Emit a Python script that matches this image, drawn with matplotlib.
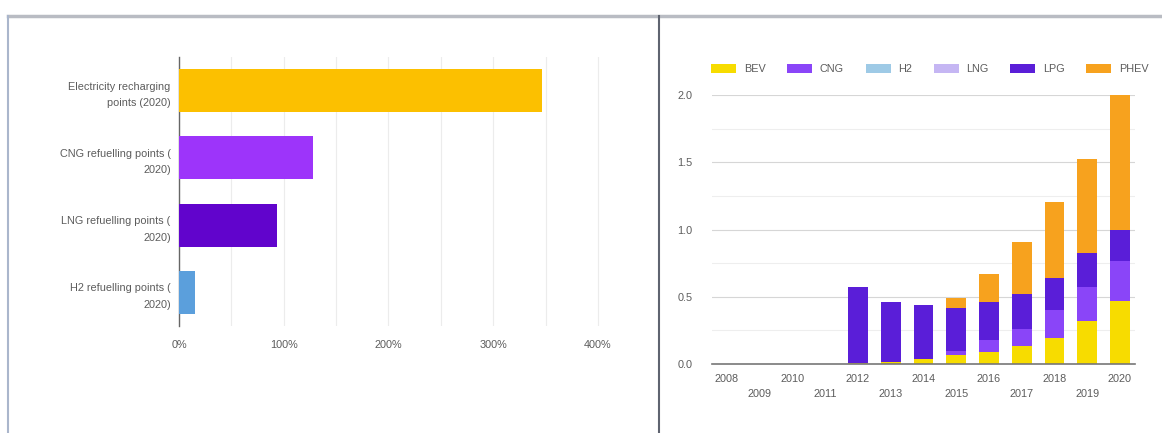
import numpy as np
import matplotlib.pyplot as plt
from matplotlib.lines import Line2D
from matplotlib.ticker import MultipleLocator, FuncFormatter

plt.rcParams['font.family'] = ['Liberation Sans', 'DejaVu Sans']

# left chart: share vs target (%)
points_labels = ['Electricity recharging\npoints (2020)', 'CNG refuelling points (\n2020)',
                 'LNG refuelling points (\n2020)', 'H2 refuelling points (\n2020)']
points_values = [347, 128, 94, 15]
points_colors = ['#fcc000', '#9d34fa', '#6104cc', '#5b9fdc']

# right chart: stacked fleet (millions)
years = [str(y) for y in range(2008, 2021)]
bev = [0, 0, 0, 0, 0.01, 0.015, 0.035, 0.065, 0.09, 0.133, 0.195, 0.321, 0.467]
cng = [0, 0, 0, 0, 0.0, 0.0, 0.0, 0.03, 0.085, 0.124, 0.205, 0.252, 0.299]
h2 = [0, 0, 0, 0, 0, 0, 0, 0, 0, 0, 0, 0, 0]
lng = [0, 0, 0, 0, 0, 0, 0, 0, 0, 0, 0, 0, 0]
lpg = [0, 0, 0, 0, 0.563, 0.445, 0.405, 0.318, 0.287, 0.267, 0.243, 0.255, 0.228]
phev = [0, 0, 0, 0, 0, 0, 0, 0.081, 0.21, 0.381, 0.563, 0.697, 1.006]
series = {'BEV': bev, 'CNG': cng, 'H2': h2, 'LNG': lng, 'LPG': lpg, 'PHEV': phev}
series_colors = {'BEV': '#f7dc00', 'CNG': '#8a45f8', 'H2': '#9ecae6',
                 'LNG': '#c5b6f3', 'LPG': '#5a1ed8', 'PHEV': '#f7a21e'}

W, H = 1162, 433
fig = plt.figure(figsize=(W / 100, H / 100), dpi=100)
fig.patch.set_facecolor('white')


def box(l, t, r, b):
    return [l / W, 1 - b / H, (r - l) / W, (b - t) / H]


txt = '#5c5c5c'
fs = 7.8

# ---- left panel
ax1 = fig.add_axes(box(179, 57, 600, 326))
y = np.arange(len(points_labels))
ax1.barh(y, points_values, height=0.64, color=points_colors, zorder=3)
ax1.set_ylim(3.5, -0.5)
ax1.set_xlim(0, 402)
ax1.xaxis.set_major_locator(MultipleLocator(100))
ax1.xaxis.set_minor_locator(MultipleLocator(50))
ax1.xaxis.set_major_formatter(FuncFormatter(lambda v, p: '%d%%' % v))
ax1.grid(axis='x', which='both', color='#ececec', linewidth=0.8, zorder=0)
ax1.set_yticks(y)
ax1.set_yticklabels(points_labels, fontsize=fs, color=txt, linespacing=1.8)
ax1.tick_params(axis='both', which='both', length=0)
ax1.tick_params(axis='x', labelsize=fs, labelcolor=txt, pad=10)
ax1.tick_params(axis='y', pad=6)
for s in ['top', 'right', 'bottom']:
    ax1.spines[s].set_visible(False)
ax1.spines['left'].set_color('#666666')
ax1.spines['left'].set_linewidth(1.0)

# ---- right panel
ax2 = fig.add_axes(box(712, 95, 1135, 364))
x = np.arange(len(years))
bottom = np.zeros(len(years))
for name, vals in series.items():
    ax2.bar(x, vals, width=0.6, bottom=bottom, color=series_colors[name],
            label=name, zorder=3)
    bottom += np.array(vals)
ax2.set_xlim(-0.46, len(years) - 0.54)
ax2.set_ylim(0, 2.0)
ax2.yaxis.set_major_locator(MultipleLocator(0.5))
ax2.yaxis.set_minor_locator(MultipleLocator(0.25))
ax2.yaxis.set_major_formatter(FuncFormatter(lambda v, p: '%.1f' % v))
ax2.grid(axis='y', which='major', color='#d6d6d6', linewidth=0.8, zorder=0)
ax2.grid(axis='y', which='minor', color='#eeeeee', linewidth=0.8, zorder=0)
ax2.set_xticks(x)
ax2.set_xticklabels([yr if i % 2 == 0 else '\n' + yr for i, yr in enumerate(years)],
                    linespacing=1.7)
ax2.tick_params(axis='both', which='both', length=0, labelsize=fs, labelcolor=txt)
ax2.tick_params(axis='x', pad=7)
ax2.tick_params(axis='y', pad=14)
for s in ['top', 'right', 'left']:
    ax2.spines[s].set_visible(False)
ax2.spines['bottom'].set_color('#777777')
ax2.spines['bottom'].set_linewidth(1.2)
ax2.spines['bottom'].set_zorder(4)

fig.legend(loc='center left', bbox_to_anchor=(706 / W, 1 - 69 / H), ncol=6,
           frameon=False, fontsize=fs, handlelength=2.3, handleheight=0.9,
           handletextpad=0.7, columnspacing=2.0, borderpad=0, labelcolor=txt)

# frame lines of the dashboard
fig.add_artist(Line2D([8 / W, 1], [1 - 16 / H] * 2, color='#b9bcc3', linewidth=2.5))
fig.add_artist(Line2D([8 / W] * 2, [0, 1 - 16 / H], color='#aab6cc', linewidth=1.5))
fig.add_artist(Line2D([659 / W] * 2, [0, 1 - 16 / H], color='#5f6470', linewidth=1.5))

fig.savefig('out.png', dpi=100, facecolor='white')
